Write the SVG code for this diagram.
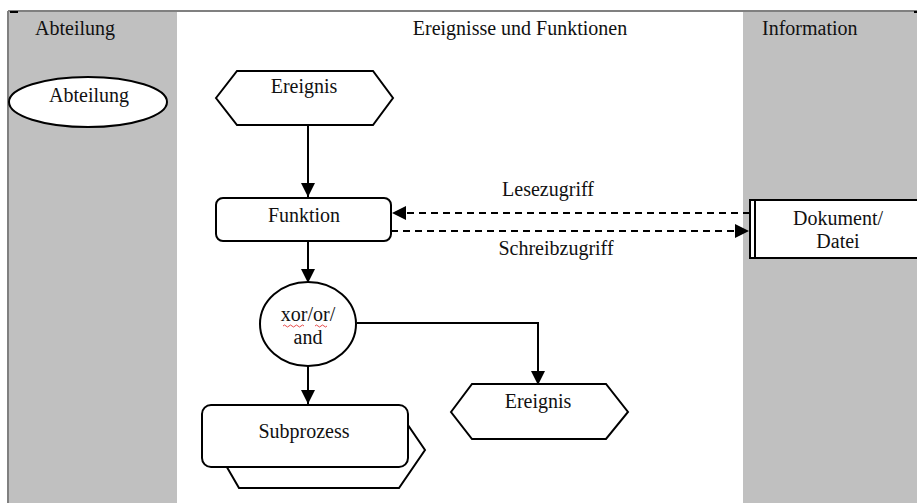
<svg xmlns="http://www.w3.org/2000/svg" width="917" height="503" viewBox="0 0 917 503">
<defs>
<marker id="ah" markerUnits="userSpaceOnUse" markerWidth="14" markerHeight="14" viewBox="0 0 14 14" refX="14" refY="7" orient="auto">
<path d="M0,0 L14,7 L0,14 Z" fill="#000"/>
</marker>
<style>
text{font-family:"Liberation Serif","Times New Roman","DejaVu Serif",serif;font-size:20px;fill:#111;}
.c{text-anchor:middle;}
.sh{fill:#fff;stroke:#000;stroke-width:2;}
.ln{fill:none;stroke:#000;stroke-width:2;}
.ds{fill:none;stroke:#000;stroke-width:2;stroke-dasharray:7,5;}
</style>
</defs>
<rect x="0" y="0" width="917" height="503" fill="#fff"/>
<g id="lanes">
<rect x="9" y="12" width="168" height="491" fill="#c0c0c0"/>
<rect x="743" y="12" width="174" height="491" fill="#c0c0c0"/>
<line x1="8" y1="11" x2="917" y2="11" stroke="#808080" stroke-width="2"/>
<line x1="8" y1="11" x2="8" y2="503" stroke="#808080" stroke-width="2"/>
<rect x="10" y="11" width="8" height="2" fill="#000"/>
<rect x="914" y="11" width="3" height="2" fill="#000"/>
<text x="35" y="35">Abteilung</text>
<text class="c" x="520" y="35">Ereignisse und Funktionen</text>
<text x="762" y="35">Information</text>
</g>
<g id="connectors">
<line class="ln" x1="308" y1="125" x2="308" y2="197" marker-end="url(#ah)"/>
<line class="ds" x1="750" y1="213" x2="392" y2="213" marker-end="url(#ah)"/>
<line class="ds" x1="391" y1="231" x2="749" y2="231" marker-end="url(#ah)"/>
<line class="ln" x1="308" y1="241" x2="308" y2="283" marker-end="url(#ah)"/>
<line class="ln" x1="308" y1="366" x2="308" y2="404" marker-end="url(#ah)"/>
<polyline class="ln" points="357,323 538,323 538,385" marker-end="url(#ah)"/>
<text class="c" x="548" y="196">Lesezugriff</text>
<text class="c" x="556" y="255">Schreibzugriff</text>
</g>
<g id="abteilung">
<ellipse class="sh" cx="88" cy="102" rx="79" ry="25"/>
<text class="c" x="89" y="102">Abteilung</text>
</g>
<g id="ereignis1">
<polygon class="sh" points="216,98 237,71 373,71 393,98 373,125 237,125"/>
<text class="c" x="304" y="93">Ereignis</text>
</g>
<g id="funktion">
<rect class="sh" x="216" y="198" width="175" height="43" rx="7"/>
<text class="c" x="304" y="222">Funktion</text>
</g>
<g id="dokument">
<rect class="sh" x="750" y="200" width="170" height="58"/>
<line x1="755" y1="200" x2="755" y2="258" stroke="#000" stroke-width="2"/>
<text class="c" x="838" y="225">Dokument/</text>
<text class="c" x="838" y="248">Datei</text>
</g>
<g id="konnektor">
<ellipse class="sh" cx="308" cy="324" rx="48" ry="42"/>
<text class="c" x="308" y="321">xor/or/</text>
<text class="c" x="308" y="344">and</text>
<path d="M283,326 q1.5,-2 3,0 t3,0 t3,0 t3,0 t3,0 t3,0 t3,0 M315,326 q1.5,-2 3,0 t3,0 t3,0 t3,0" fill="none" stroke="#e02020" stroke-width="0.8"/>
</g>
<g id="ereignis2">
<polygon class="sh" points="451,412 472,384 606,384 628,412 606,439 472,439"/>
<text class="c" x="538" y="408">Ereignis</text>
</g>
<g id="subprozess">
<polygon class="sh" points="217,450 239,412 399,412 425,450 399,488 239,488"/>
<rect class="sh" x="202" y="405" width="206" height="62" rx="9"/>
<text class="c" x="304" y="438">Subprozess</text>
</g>
</svg>
